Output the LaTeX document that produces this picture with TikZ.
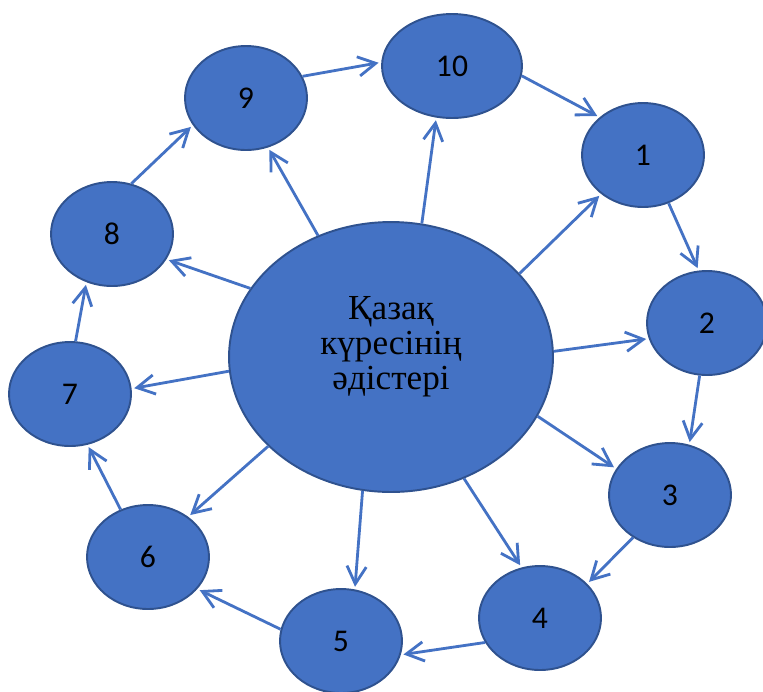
\documentclass[tikz,border=0pt]{standalone}
\usepackage{fontspec}
\setmainfont{Liberation Serif}
\newfontfamily\numfont{Carlito}
\usetikzlibrary{shapes.geometric,arrows.meta}
\definecolor{fillblue}{HTML}{4472C4}
\definecolor{edgeblue}{HTML}{2F528F}
\tikzset{
  blob/.style={ellipse,draw=edgeblue,line width=1.1pt,fill=fillblue,inner sep=0pt,minimum height=2.08cm},
  link/.style={draw=fillblue,line width=1.6pt,shorten >=1.5pt,-{Straight Barb[length=10pt,width=11pt]}}
}
\begin{document}
\begin{tikzpicture}[x=0.02cm,y=-0.02cm]
        \useasboundingbox (0,0) rectangle (763,691);
        \node[blob,minimum width=6.48cm,minimum height=5.4cm,
              label={[align=center,yshift=6pt,font=\fontsize{20}{20}\selectfont]center:Қазақ\\күресінің\\әдістері}] (centre) at (391,357) {};
        \foreach \i/\x/\y/\w in {1/643/155/2.44,2/707/323/2.40,3/670/495/2.44,4/540/618/2.44,5/341/641/2.44,
                                 6/148/557/2.44,7/70/394/2.44,8/112/234/2.44,9/246/98/2.44,10/452/66/2.8} {
            \node[blob,minimum width=\w cm,font=\numfont\fontsize{18}{20}\selectfont] (n\i) at (\x,\y) {\i};
        }
        \foreach \a/\b/\p/\q in {centre/n10/77.8/253.9,centre/n1/33.2/223,centre/n2/2.5/195.3,
                                 centre/n3/338.7/154.2,centre/n4/301.7/110.7,centre/n5/258.3/75.2,
                                 centre/n6/216.8/45,centre/n7/185.3/5.4,centre/n8/154.4/335.6,
                                 centre/n9/121.2/294,
                                 n9/n10/21.3/177.4,n10/n1/352.7/139.8,n1/n2/298.7/99.3,
                                 n2/n3/262.6/69.2,n3/n4/229.8/36.3,n4/n5/204.2/347.1,
                                 n5/n6/169.8/327.6,n6/n7/120/289.4,n7/n8/84.5/242.5,n8/n9/69/207.9} {
            \draw[link] (\a.\p) -- (\b.\q);
        }
\end{tikzpicture}
\end{document}
